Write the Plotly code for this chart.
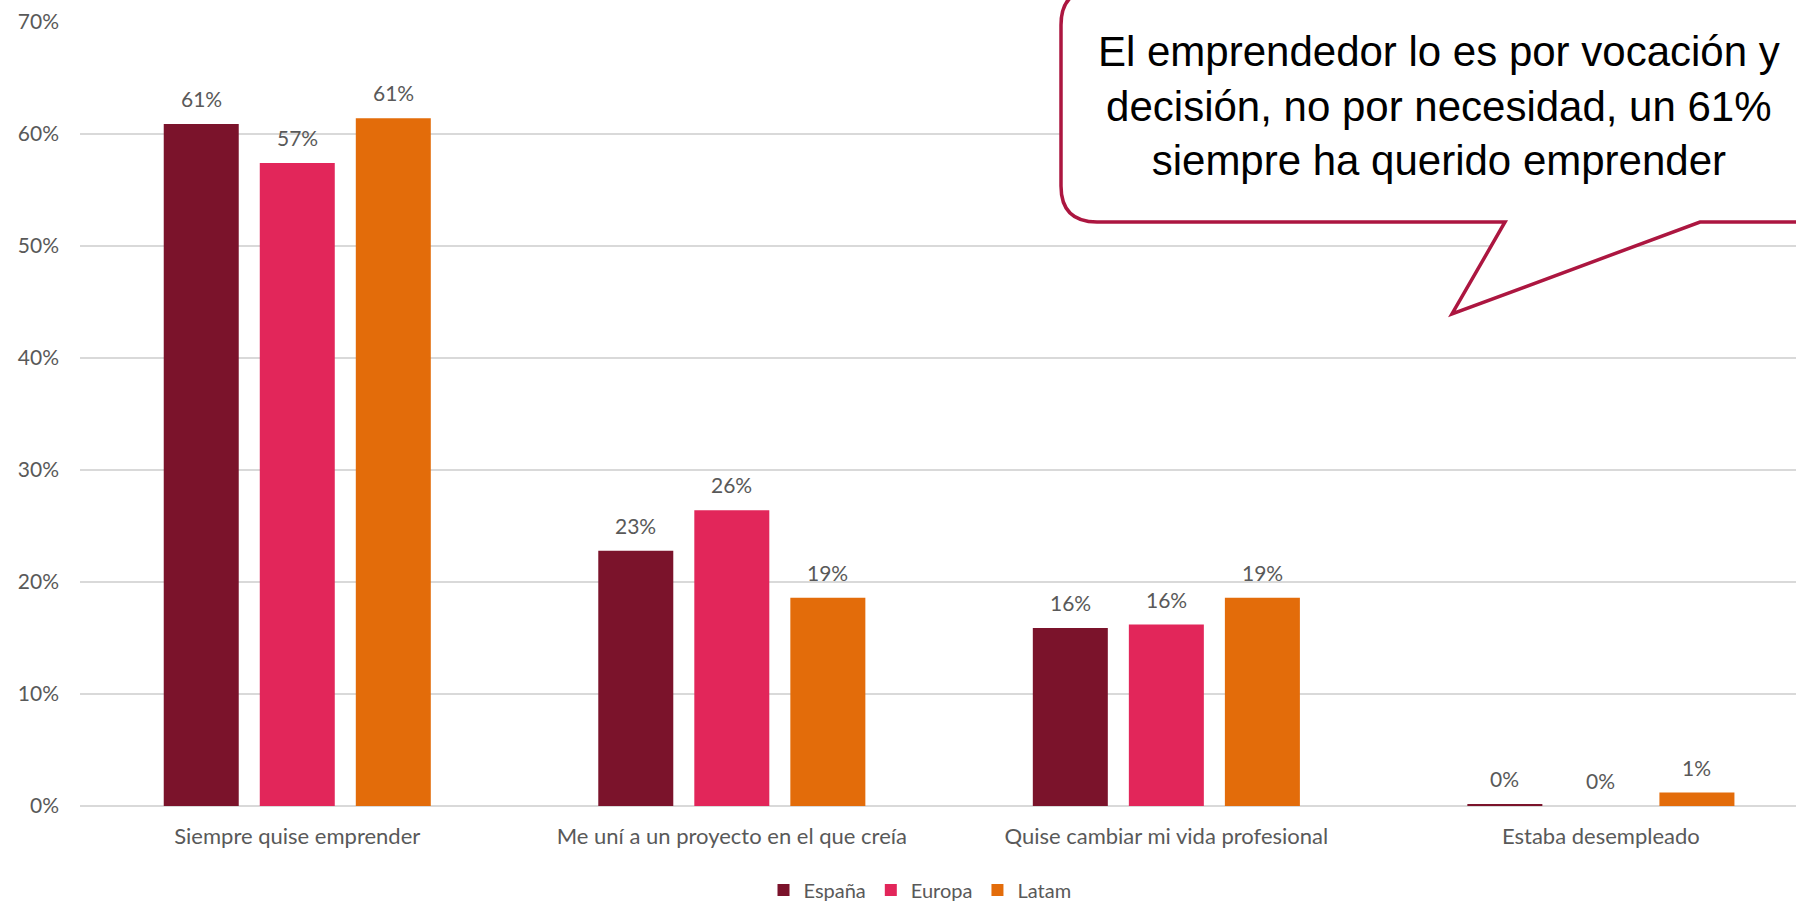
import plotly.graph_objects as go

categories = ["Siempre quise emprender", "Me uní a un proyecto en el que creía",
              "Quise cambiar mi vida profesional", "Estaba desempleado"]
espana = [60.9, 22.8, 15.9, 0.15]
europa = [57.4, 26.4, 16.2, 0.0]
latam = [61.4, 18.6, 18.6, 1.2]
series_names = ["España", "Europa", "Latam"]
series_colors = ["#7B132B", "#E2265A", "#E36C0A"]
y_ticks = [0, 10, 20, 30, 40, 50, 60, 70]
callout_text = ("El emprendedor lo es por vocación y<br>"
                "decisión, no por necesidad, un 61%<br>"
                "siempre ha querido emprender")

W, H = 1796, 903
ML, MR, MT, MB = 80, 0, 22, 97
PW, PH = W - ML - MR, H - MT - MB

BARGAP, BARGROUPGAP = 0.337, 0.219
slot = (1 - BARGAP) / 3

TXT = "#595959"
FONT = "Lato, 'Open Sans', sans-serif"

fig = go.Figure()
all_series = [espana, europa, latam]
for name, vals, col in zip(series_names, all_series, series_colors):
    fig.add_trace(go.Bar(name=name, x=categories, y=vals, marker=dict(color=col, line=dict(width=0))))

# data labels
annotations = []
for i, vals in enumerate(all_series):
    for j, v in enumerate(vals):
        annotations.append(dict(
            x=j + (i - 1) * slot, y=v, xref="x", yref="y",
            text=f"{round(v):.0f}%", showarrow=False,
            yanchor="bottom", xanchor="center", yshift=11,
            font=dict(family=FONT, size=21, color=TXT)))

def px(X):
    return (X - ML) / PW

def py(Y):
    return (MT + PH - Y) / PH

L, R, T, B, r = 1061, 1830, -11, 222, 36
tail = [(1700, B), (1452, 314), (1505, B)]
pts = []
pts.append(("M", [(L + r, T)]))
pts.append(("L", [(R - r, T)]))
pts.append(("Q", [(R, T), (R, T + r)]))
pts.append(("L", [(R, B - r)]))
pts.append(("Q", [(R, B), (R - r, B)]))
for p in tail:
    pts.append(("L", [p]))
pts.append(("L", [(L + r, B)]))
pts.append(("Q", [(L, B), (L, B - r)]))
pts.append(("L", [(L, T + r)]))
pts.append(("Q", [(L, T), (L + r, T)]))
path = " ".join(cmd + " " + " ".join(f"{px(a):.5f},{py(b):.5f}" for a, b in c) for cmd, c in pts) + " Z"

fig.add_shape(type="path", path=path, xref="paper", yref="paper",
              line=dict(color="#AC1640", width=3.5), fillcolor="white", layer="above")

annotations.append(dict(
    x=px(1439), y=py(106), xref="paper", yref="paper", text=callout_text,
    showarrow=False, xanchor="center", yanchor="middle", align="center",
    font=dict(family="'Liberation Sans', Arial, sans-serif", size=42, color="black")))

fig.update_layout(
    width=W, height=H,
    margin=dict(l=ML, r=MR, t=MT, b=MB, autoexpand=False),
    paper_bgcolor="white", plot_bgcolor="white",
    barmode="group", bargap=BARGAP, bargroupgap=BARGROUPGAP,
    showlegend=True,
    legend=dict(orientation="h", x=px(920), xanchor="center", y=py(890), yanchor="middle",
                font=dict(family=FONT, size=20, color=TXT), itemwidth=30, traceorder="normal"),
    annotations=annotations,
    xaxis=dict(range=[-0.5, 3.449], showgrid=False, showline=False, ticks="", automargin=False,
               tickfont=dict(family=FONT, size=22, color=TXT), ticklabelstandoff=15),
    yaxis=dict(range=[0, 70], tickvals=y_ticks, ticktext=[f"{t}%" for t in y_ticks],
               showgrid=True, gridcolor="#D9D9D9", gridwidth=2, automargin=False,
               zeroline=True, zerolinecolor="#D9D9D9", zerolinewidth=2,
               showline=False, ticks="",
               tickfont=dict(family=FONT, size=21, color=TXT), ticklabelstandoff=20),
)

fig.write_html("out.html", config={"displayModeBar": False},
               post_script="document.body.style.margin='0';document.body.style.overflow='hidden';")
